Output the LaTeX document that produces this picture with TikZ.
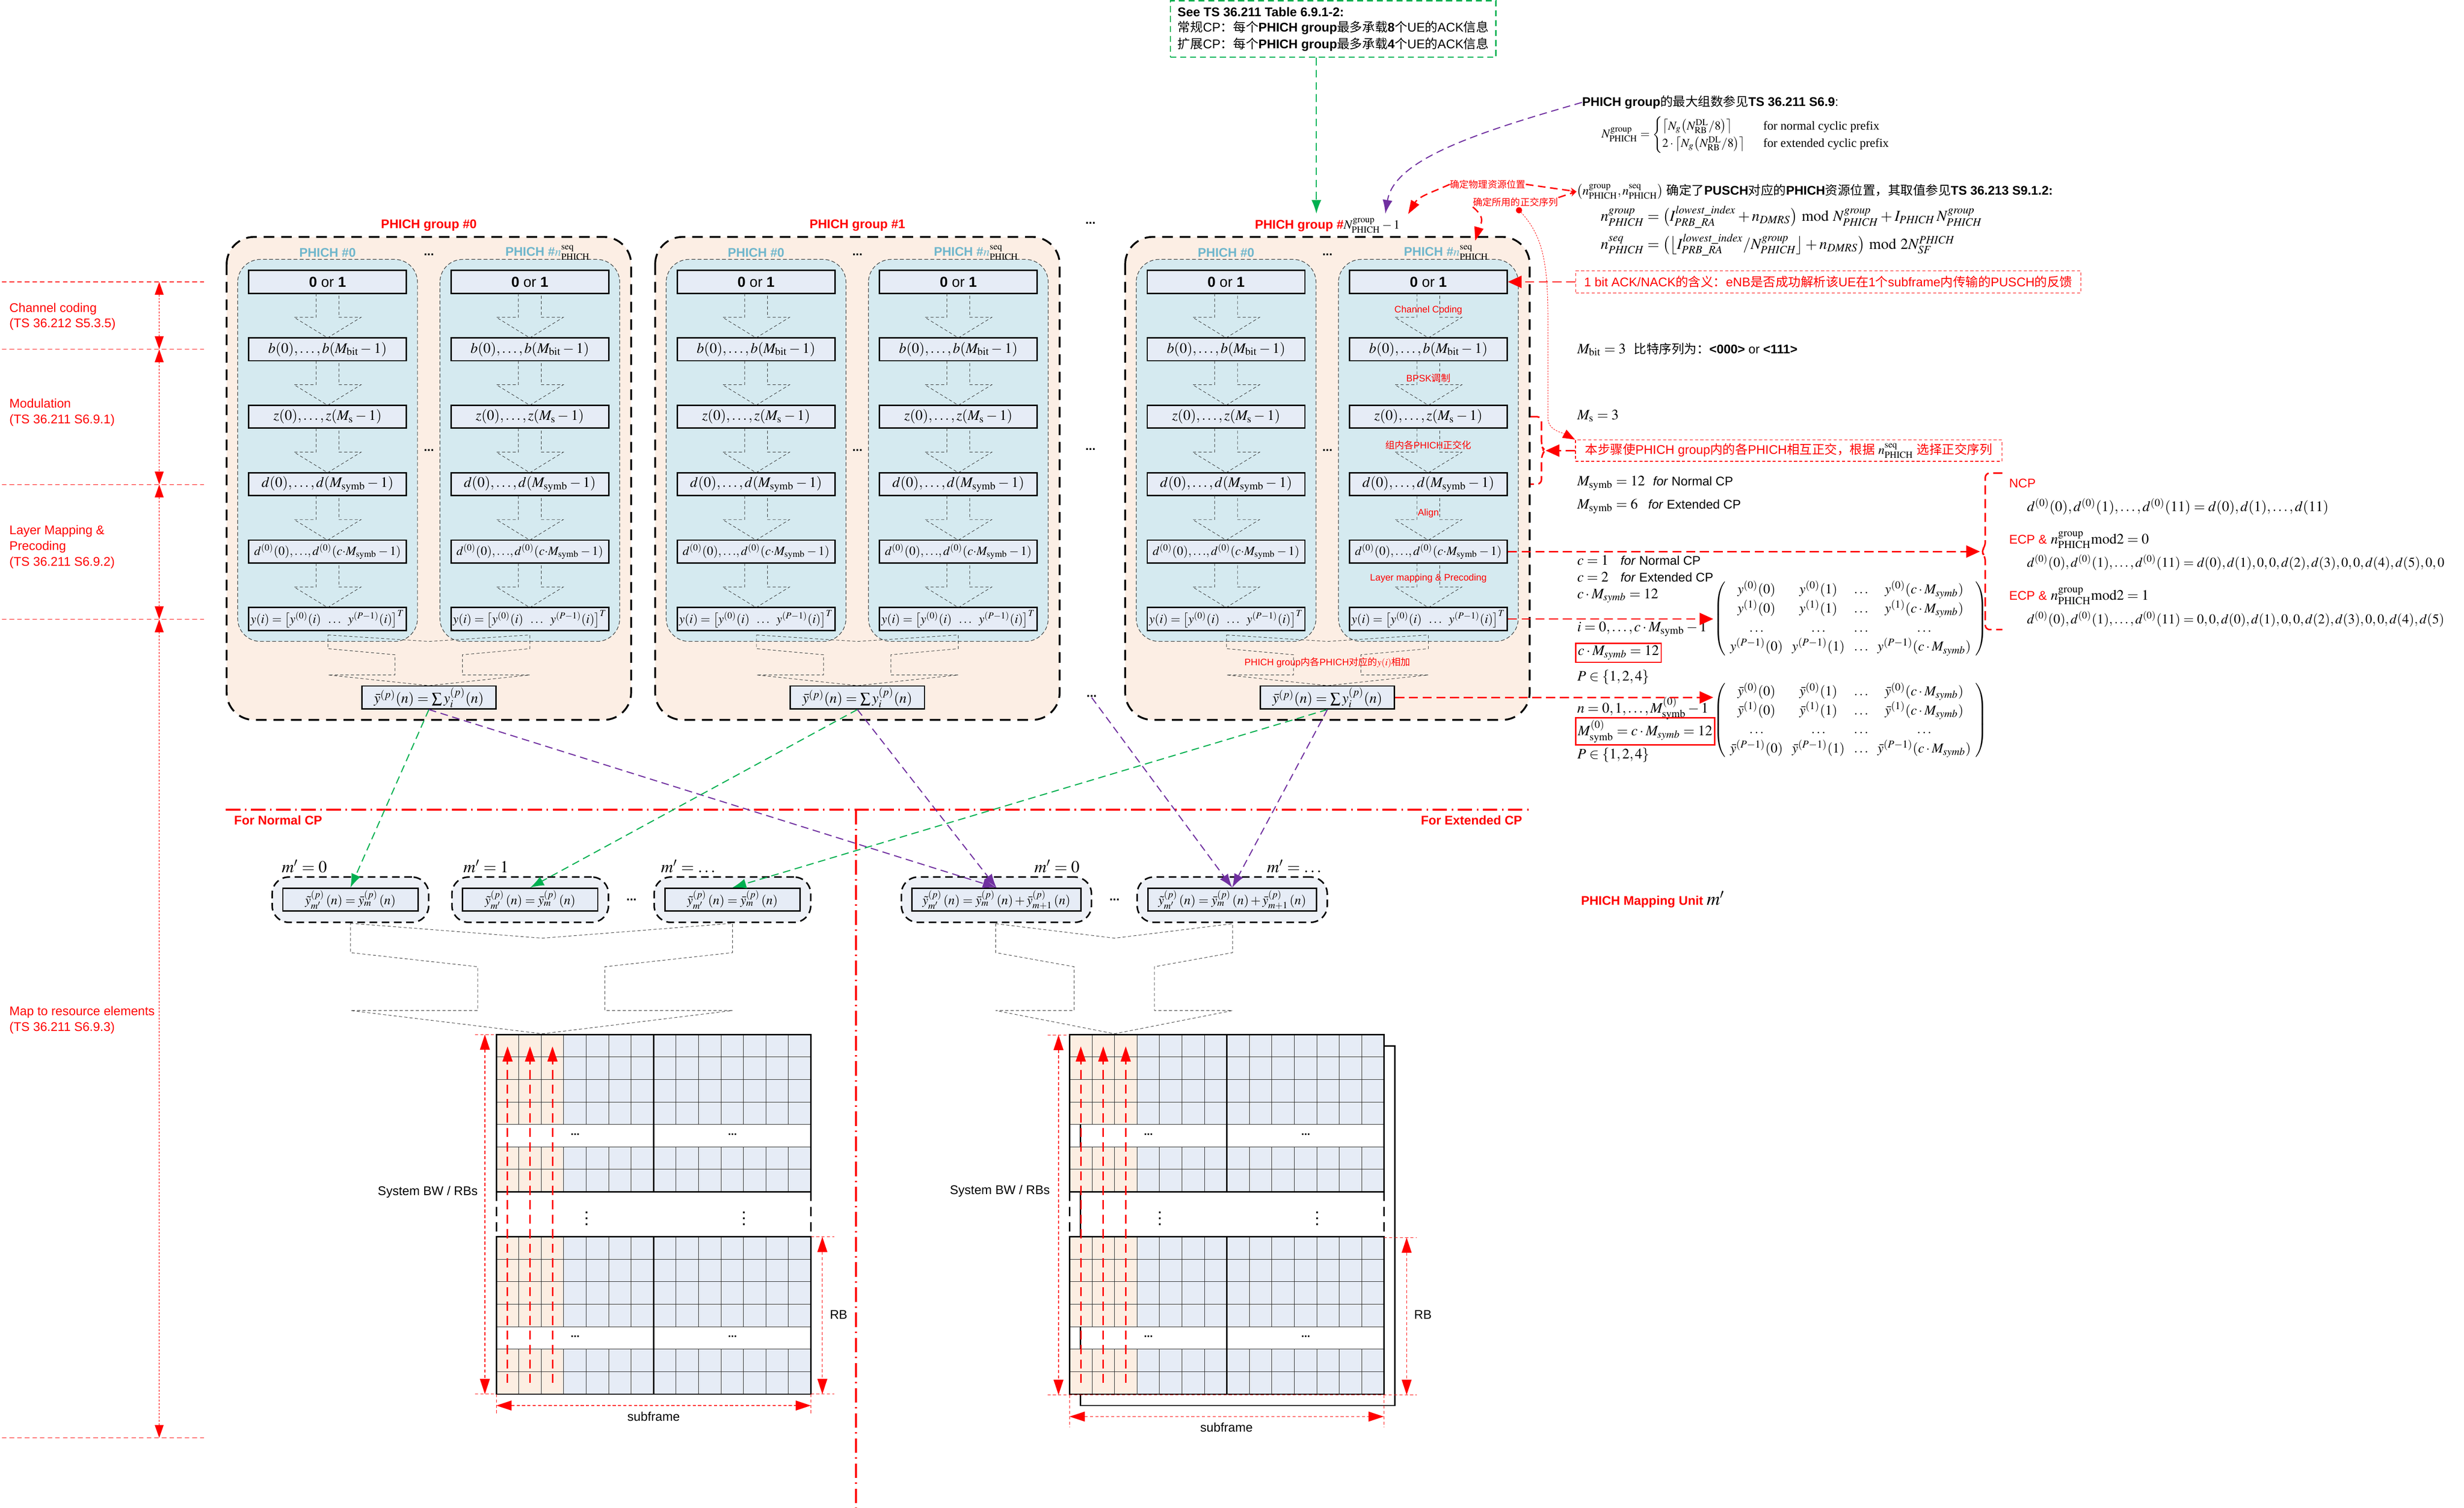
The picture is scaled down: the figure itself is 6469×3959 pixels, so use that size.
\documentclass[tikz,border=0pt]{standalone}
\usepackage{mathptmx}
\usepackage{amsmath}
\usepackage[no-math]{fontspec}
\setmainfont{Liberation Sans}
\newfontfamily\cjk{Noto Sans CJK SC}
\newfontfamily\tnr{Liberation Serif}
\usetikzlibrary{arrows.meta,calc}
\definecolor{grpfill}{RGB}{252,238,228}
\definecolor{phfill}{RGB}{213,234,240}
\definecolor{boxfill}{RGB}{230,236,246}
\definecolor{phtc}{RGB}{111,182,204}
\definecolor{unitfill}{RGB}{237,240,246}
\definecolor{cellpeach}{RGB}{252,238,226}
\definecolor{cellblue}{RGB}{230,236,246}
\definecolor{xgreen}{RGB}{0,176,80}
\definecolor{xpurple}{RGB}{112,48,160}
\definecolor{xred}{RGB}{255,0,0}
\newcommand\fsz[2]{\fontsize{#1}{#2}\selectfont}
\newcommand\zh[1]{{\cjk #1}}
\tikzset{
  grpbox/.style={draw=black, line width=1.2pt, dash pattern=on 7pt off 4.5pt, fill=grpfill, rounded corners=18pt},
  phbox/.style={draw=black!75, line width=0.4pt, dash pattern=on 2.5pt off 1.5pt, fill=phfill, rounded corners=15pt},
  pbox/.style={draw=black, line width=0.9pt, fill=boxfill, minimum width=103.5pt, minimum height=15pt, inner sep=0pt, font=\fsz{9.5}{11}},
  pboxs/.style={pbox, font=\fsz{8.2}{10}},
  sumbox/.style={pbox, minimum width=88pt},
  ubox/.style={pbox, minimum width=88.75pt, font=\fsz{8.5}{10}},
  uboxe/.style={pbox, minimum width=110.75pt, font=\fsz{8.5}{10}},
  unitbox/.style={draw=black, line width=1pt, dash pattern=on 5pt off 3pt, fill=unitfill, rounded corners=11pt, minimum height=29.75pt, inner sep=0pt},
  barrow/.style={draw=black!80, line width=0.3pt, dash pattern=on 2pt off 1.5pt},
  grptitle/.style={text=xred, font=\fsz{8.25}{10}\bfseries, inner sep=0pt},
  phtitle/.style={text=phtc, font=\fsz{8.25}{10}\bfseries, inner sep=0pt},
  dotsl/.style={font=\fsz{8}{10}\bfseries, inner sep=0pt},
  rlbl/.style={text=xred, font=\fsz{6.2}{7.5}, inner sep=0pt},
  txt/.style={font=\fsz{8.25}{10}, inner sep=0pt, anchor=west},
  mth/.style={font=\fsz{9.5}{11}, inner sep=0pt, anchor=west},
  leftlbl/.style={text=xred, font=\fsz{8.25}{10.25}, align=left, inner sep=0pt, anchor=west},
  sepline/.style={draw=xred, line width=0.35pt, dash pattern=on 3pt off 2pt},
  stagearrow/.style={draw=xred!65, line width=0.5pt, dash pattern=on 1.2pt off 1pt, {Triangle[length=8.5pt,width=5.8pt,color=xred]}-{Triangle[length=8.5pt,width=5.8pt,color=xred]}},
  redann/.style={draw=xred, line width=0.9pt, dash pattern=on 6pt off 3pt, -{Triangle[length=9pt,width=8pt]}},
  redcurve/.style={draw=xred, line width=0.9pt, dash pattern=on 5pt off 3pt},
  redbr/.style={draw=xred, line width=1pt, dash pattern=on 6pt off 3pt, rounded corners=3pt},
  redthin/.style={draw=xred, line width=0.3pt, dash pattern=on 1pt off 0.8pt},
  gconn/.style={draw=xgreen, line width=0.7pt, dash pattern=on 5pt off 3pt, -{Latex[length=9pt,width=6.5pt]}},
  pconn/.style={draw=xpurple, line width=0.7pt, dash pattern=on 5pt off 3pt, -{Latex[length=9pt,width=6.5pt]}},
  dashdot/.style={draw=xred, line width=1.2pt, dash pattern=on 9.5pt off 3pt on 1pt off 3pt},
  gridthin/.style={draw=black!85, line width=0.3pt},
  gridthick/.style={draw=black, line width=0.9pt},
  colarrow/.style={draw=xred, line width=1pt, dash pattern=on 6pt off 3.5pt, -{Triangle[length=10pt,width=6.5pt]}},
  dimarrow/.style={draw=xred, line width=0.4pt, dash pattern=on 2pt off 1.5pt, {Triangle[length=10pt,width=6.5pt]}-{Triangle[length=10pt,width=6.5pt]}},
  extline/.style={draw=xred, line width=0.3pt, dash pattern=on 2pt off 1.5pt},
  noteline/.style={draw=xred, line width=0.5pt, dash pattern=on 2pt off 1.5pt, inner sep=0pt, text=xred, font=\fsz{8.25}{10}}
}
\newcommand\blkarr[3]{\draw[barrow] ({#1-30},{#2}) -- ({#1-30},{#3-54}) -- ({#1-88},{#3-54}) -- ({#1},{#3}) -- ({#1+88},{#3-54}) -- ({#1+30},{#3-54}) -- ({#1+30},{#2});}
\newcommand\phgroup[3]{%
\begin{scope}[shift={(#2,0)}]
 \draw[grpbox] (0,622) rectangle (1062,1890);
 \draw[phbox] (29,681) rectangle (501,1684);
 \draw[phbox] (560,681) rectangle (1032,1684);
 \node[grptitle] (#1title) at (531,592) {#3};
 \node[phtitle] (#1ta) at (265,664) {PHICH \#0};
 \node[phtitle, anchor=west] (#1tb) at (731,664) {PHICH \#$n^{\textcolor{black}{\mathrm{seq}}}_{\textcolor{black}{\mathrm{PHICH}}}$};
 \node[dotsl] (#1d1) at (531,669) {...};
 \node[dotsl] (#1d2) at (531,1182) {...};
 \foreach \s/\cx in {a/265,b/796}{
   \node[pbox] (#1\s1) at (\cx,740) {\textbf{0} or \textbf{1}};
   \node[pbox] (#1\s2) at (\cx,917) {$b(0),\ldots,b(M_{\mathrm{bit}}-1)$};
   \node[pbox] (#1\s3) at (\cx,1094) {$z(0),\ldots,z(M_{\mathrm{s}}-1)$};
   \node[pbox] (#1\s4) at (\cx,1271) {$d(0),\ldots,d(M_{\mathrm{symb}}-1)$};
   \node[pboxs] (#1\s5) at (\cx,1448) {$d^{(0)}(0),{\ldots},d^{(0)}(c{\cdot}M_{\mathrm{symb}}-1)$};
   \node[pboxs] (#1\s6) at (\cx,1625) {$y(i)=\bigl[y^{(0)}(i)\;\;\ldots\;\;y^{(P-1)}(i)\bigr]^{T}$};
   \foreach \yy in {740,917,1094,1271,1448}{\blkarr{\cx}{\yy+30}{\yy+147}}
 }
 \draw[barrow] (266,1667) -- (531,1684) -- (796,1667) -- (796,1703) -- (619,1719) -- (619,1772) -- (796,1772) -- (531,1800) -- (266,1772) -- (442,1772) -- (442,1719) -- (266,1703) -- cycle;
 \node[sumbox] (#1sum) at (531,1831) {$\bar{y}^{(p)}(n)=\sum y_i^{(p)}(n)$};
\end{scope}}
\newcommand\rgrid[2]{%
 \foreach \yb in {2716,3247}{
  \foreach \k in {0,1,2,3,5,6}{
   \fill[cellpeach] (#1,{\yb+59*\k}) rectangle ({#1+177},{\yb+59*\k+59});
   \fill[cellblue] ({#1+177},{\yb+59*\k}) rectangle ({#1+826},{\yb+59*\k+59});
   \foreach \c in {1,...,13}{\draw[gridthin] ({#1+59*\c},{\yb+59*\k}) -- ++(0,59);}
  }
  \foreach \k in {1,...,6}{\draw[gridthin] (#1,{\yb+59*\k}) -- ++(826,0);}
  \draw[gridthick] ({#1+413},\yb) -- ++(0,413);
  \draw[gridthick] (#1,\yb) rectangle ({#1+826},{\yb+413});
 }
 \draw[gridthick, dash pattern=on 6pt off 4pt] (#1,3129) -- (#1,3247);
 \draw[gridthick, dash pattern=on 6pt off 4pt] ({#1+826},3129) -- ({#1+826},3247);
 \node[dotsl, font=\fsz{7}{8}\bfseries] (#2da) at ({#1+207},2978) {...};
 \node[dotsl, font=\fsz{7}{8}\bfseries] (#2db) at ({#1+620},2978) {...};
 \node[dotsl, font=\fsz{7}{8}\bfseries] (#2dc) at ({#1+207},3509) {...};
 \node[dotsl, font=\fsz{7}{8}\bfseries] (#2dd) at ({#1+620},3509) {...};
 \node[dotsl, font=\fsz{8}{9}\bfseries] (#2de) at ({#1+237},3187) {$\vdots$};
 \node[dotsl, font=\fsz{8}{9}\bfseries] (#2df) at ({#1+650},3187) {$\vdots$};
 \foreach \c in {0,1,2}{\draw[colarrow] ({#1+29.5+59*\c},3631) -- ({#1+29.5+59*\c},2747);}
}
\begin{document}
\begin{tikzpicture}[x=0.25pt, y=-0.25pt]
\useasboundingbox[fill=white] (0,0) rectangle (6469,3959);
% ---------- left stage labels
\foreach \yy in {740,917,1272,1626,3775}{\draw[sepline] (5,\yy) -- (536,\yy);}
\coordinate (s0) at (418,740); \coordinate (s1) at (418,917); \coordinate (s2) at (418,1272);
\coordinate (s3) at (418,1626); \coordinate (s4) at (418,3775);
\draw[stagearrow] (s0) -- (s1); \draw[stagearrow] (s1) -- (s2);
\draw[stagearrow] (s2) -- (s3); \draw[stagearrow] (s3) -- (s4);
\node[leftlbl] (lab1) at (24,831) {Channel coding\\(TS 36.212 S5.3.5)};
\node[leftlbl] (lab2) at (24,1083) {Modulation\\(TS 36.211 S6.9.1)};
\node[leftlbl] (lab3) at (24,1436) {Layer Mapping \&\\Precoding\\(TS 36.211 S6.9.2)};
\node[leftlbl] (lab4) at (24,2678) {Map to resource elements\\(TS 36.211 S6.9.3)};
% ---------- groups
\phgroup{g0}{595}{PHICH group \#0}
\phgroup{g1}{1720}{PHICH group \#1}
\phgroup{gN}{2954}{PHICH group \#\textcolor{black}{$N^{\mathrm{group}}_{\mathrm{PHICH}}-1$}}
\node[dotsl] (dtop) at (2863,586) {...};
\node[dotsl] (dmid) at (2863,1180) {...};
\node[dotsl] (dbot) at (2866,1828) {...};
\node[rlbl] (ccl) at (3750,815) {Channel Coding};
\node[rlbl] (bpl) at (3750,993) {BPSK\zh{调制}};
\node[rlbl] (orl) at (3750,1169) {\zh{组内各}PHICH\zh{正交化}};
\node[rlbl] (all) at (3750,1347) {Align};
\node[rlbl] (lml) at (3750,1518) {Layer mapping \& Precoding};
\node[rlbl] (sml) at (3485,1740) {PHICH group\zh{内各}PHICH\zh{对应的}$y(i)$\zh{相加}};
% ---------- top note
\node[draw=xgreen, line width=0.8pt, dash pattern=on 4pt off 2.5pt, minimum width=213.75pt, minimum height=37pt, inner sep=0pt] (note) at (3500,76) {};
\node[txt, font=\fsz{8.3}{10}] (note1) at (3091,32) {\textbf{See TS 36.211 Table 6.9.1-2:}};
\node[txt, font=\fsz{8.3}{10}] (note2) at (3091,73) {\zh{常规}CP\zh{：每个}\textbf{PHICH group}\zh{最多承载}\textbf{8}\zh{个}UE\zh{的}ACK\zh{信息}};
\node[txt, font=\fsz{8.3}{10}] (note3) at (3091,117) {\zh{扩展}CP\zh{：每个}\textbf{PHICH group}\zh{最多承载}\textbf{4}\zh{个}UE\zh{的}ACK\zh{信息}};
\coordinate (gtip) at (3456,561);
\draw[gconn] (note.south -| gtip) -- (gtip);
% ---------- top right formulas
\node[txt] (maxtxt) at (4153,269) {\textbf{PHICH group}\zh{的最大组数参见}\textbf{TS 36.211 S6.9}:};
\coordinate (ptip) at (3637,561);
\draw[pconn] (maxtxt.west) .. controls (3870,350) and (3660,420) .. (ptip);
\node[mth, font=\fsz{8}{9.5}] (nform) at (4204,354) {$N^{\mathrm{group}}_{\mathrm{PHICH}}=\begin{cases}\bigl\lceil N_{g}\bigl(N^{\mathrm{DL}}_{\mathrm{RB}}/8\bigr)\bigr\rceil & \text{\tnr\ \ for normal cyclic prefix}\\ 2\cdot\bigl\lceil N_{g}\bigl(N^{\mathrm{DL}}_{\mathrm{RB}}/8\bigr)\bigr\rceil & \text{\tnr\ \ for extended cyclic prefix}\end{cases}$};
\node[txt] (nparen) at (4139,503) {$\left(n^{\mathrm{group}}_{\mathrm{PHICH}},n^{\mathrm{seq}}_{\mathrm{PHICH}}\right)$\ \zh{确定了}\textbf{PUSCH}\zh{对应的}\textbf{PHICH}\zh{资源位置，其取值参见}\textbf{TS 36.213 S9.1.2:}};
\node[mth, font=\fsz{10}{12}] (ngf) at (4202,570) {$n^{\mathit{group}}_{\mathit{PHICH}}=\bigl(I^{\mathit{lowest\_index}}_{\mathit{PRB\_RA}}+n_{\mathit{DMRS}}\bigr)\bmod N^{\mathit{group}}_{\mathit{PHICH}}+I_{\mathit{PHICH}}\,N^{\mathit{group}}_{\mathit{PHICH}}$};
\node[mth, font=\fsz{10}{12}] (nsf) at (4202,643) {$n^{\mathit{seq}}_{\mathit{PHICH}}=\bigl(\bigl\lfloor I^{\mathit{lowest\_index}}_{\mathit{PRB\_RA}}/N^{\mathit{group}}_{\mathit{PHICH}}\bigr\rfloor+n_{\mathit{DMRS}}\bigr)\bmod 2N^{\mathit{PHICH}}_{\mathit{SF}}$};
\node[rlbl] (lbl1) at (3906,484) {\zh{确定物理资源位置}};
\node[rlbl] (lbl2) at (3979,531) {\zh{确定所用的正交序列}};
\coordinate (tipA) at (3697,562);
\coordinate (tipB) at (3873,632);
\draw[redcurve, -{Stealth[length=4pt,width=4pt]}] (lbl1.east) -- (nparen.west);
\draw[redcurve, -{Stealth[length=4pt,width=4pt]}] (lbl2.north east) -- (nparen.west);
\draw[redcurve, -{Triangle[length=9pt,width=6pt]}] (lbl1.west) .. controls (3760,505) and (3725,515) .. (tipA);
\draw[redcurve, -{Triangle[length=9pt,width=6pt]}] (lbl2.south west) .. controls (3905,575) and (3885,590) .. (tipB);
\coordinate (dotc) at (3988,552);
\fill[xred] (dotc) circle (2pt);
% ---------- right column
\node[noteline, minimum width=331.5pt, minimum height=14.5pt] (ack) at (4800,740) {1 bit ACK/NACK\zh{的含义：}eNB\zh{是否成功解析该}UE\zh{在}1\zh{个}subframe\zh{内传输的}PUSCH\zh{的反馈}};
\draw[redann] (ack.west) -- (gNb1.east);
\node[mth] (mbit) at (4140,917) {$M_{\mathrm{bit}}=3$\ \ {\fsz{8.25}{10}\zh{比特序列为：}\textbf{<000>} or \textbf{<111>}}};
\node[mth] (ms) at (4140,1092) {$M_{\mathrm{s}}=3$};
\node[noteline, minimum width=280pt, minimum height=14pt] (orth) at (4696,1183) {\zh{本步骤使}PHICH group\zh{内的各}PHICH\zh{相互正交，根据}\ \textcolor{black}{$n^{\mathrm{seq}}_{\mathrm{PHICH}}$}\ \zh{选择正交序列}};
\draw[redthin, -{Triangle[length=8pt,width=6pt,color=xred]}] (dotc) .. controls (4055,620) and (4064,700) .. (4064,850) -- (4064,1100) .. controls (4066,1130) and (4100,1135) .. (orth.north west);
\draw[redbr] (4018,1094) -- (4047,1094) -- (4047,1171) -- (4056,1183) -- (4047,1195) -- (4047,1271) -- (4018,1271);
\coordinate (brk1) at (4058,1183);
\draw[redann] (orth.west) -- (brk1);
\node[mth] (msy1) at (4140,1269) {$M_{\mathrm{symb}}=12$\ \ {\fsz{8.25}{10}\textit{for} Normal CP}};
\node[mth] (msy2) at (4140,1329) {$M_{\mathrm{symb}}=6$\ \ \,{\fsz{8.25}{10}\textit{for} Extended CP}};
\node[mth] (c1) at (4140,1471) {$c=1$\ \ \ {\fsz{8.25}{10}\textit{for} Normal CP}};
\node[mth] (c2) at (4140,1515) {$c=2$\ \ \ {\fsz{8.25}{10}\textit{for} Extended CP}};
\node[mth] (cm) at (4140,1564) {$c\cdot M_{symb}=12$};
\node[mth] (ir) at (4140,1652) {$i=0,\ldots,c\cdot M_{\mathrm{symb}}-1$};
\node[mth, draw=xred, line width=0.8pt, inner sep=1.5pt] (rb1) at (4135,1714) {$c\cdot M_{symb}=12$};
\node[mth] (ps1) at (4140,1778) {$P\in\{1,2,4\}$};
\node[mth] (nr) at (4140,1860) {$n=0,1,\ldots,M^{(0)}_{\mathrm{symb}}-1$};
\node[mth, draw=xred, line width=0.8pt, inner sep=1.5pt] (rb2) at (4135,1920) {$M^{(0)}_{\mathrm{symb}}=c\cdot M_{symb}=12$};
\node[mth] (ps2) at (4140,1983) {$P\in\{1,2,4\}$};
\node[mth, font=\fsz{9}{10}] (mat1) at (4498,1624) {$\renewcommand\arraystretch{1.25}\setlength\arraycolsep{3pt}\left(\begin{array}{cccc} y^{(0)}(0) & y^{(0)}(1) & \ldots & y^{(0)}(c\cdot M_{symb})\\ y^{(1)}(0) & y^{(1)}(1) & \ldots & y^{(1)}(c\cdot M_{symb})\\ \ldots & \ldots & \ldots & \ldots\\ y^{(P-1)}(0) & y^{(P-1)}(1) & \ldots & y^{(P-1)}(c\cdot M_{symb})\end{array}\right)$};
\node[mth, font=\fsz{9}{10}] (mat2) at (4498,1891) {$\renewcommand\arraystretch{1.25}\setlength\arraycolsep{3pt}\left(\begin{array}{cccc} \bar{y}^{(0)}(0) & \bar{y}^{(0)}(1) & \ldots & \bar{y}^{(0)}(c\cdot M_{symb})\\ \bar{y}^{(1)}(0) & \bar{y}^{(1)}(1) & \ldots & \bar{y}^{(1)}(c\cdot M_{symb})\\ \ldots & \ldots & \ldots & \ldots\\ \bar{y}^{(P-1)}(0) & \bar{y}^{(P-1)}(1) & \ldots & \bar{y}^{(P-1)}(c\cdot M_{symb})\end{array}\right)$};
\draw[redann] (gNb6.east) -- (gNb6.east -| mat1.west);
\draw[redann] (gNsum.east) -- (gNsum.east -| mat2.west);
\coordinate (brk2) at (5198,1448);
\draw[redann] (gNb5.east) -- (brk2);
\draw[redbr] (5257,1242) -- (5212,1242) -- (5212,1436) -- (5200,1448) -- (5212,1460) -- (5212,1653) -- (5257,1653);
\node[txt, text=xred] (ncp) at (5274,1269) {NCP};
\node[mth, font=\fsz{9.5}{11}] (ncpf) at (5321,1330) {$d^{(0)}(0),d^{(0)}(1),\ldots,d^{(0)}(11)=d(0),d(1),\ldots,d(11)$};
\node[mth, font=\fsz{9.5}{11}] (ecp0) at (5274,1418) {{\fsz{8.25}{10}\textcolor{xred}{ECP \&}} $n^{\mathrm{group}}_{\mathrm{PHICH}}\mathrm{mod}2=0$};
\node[mth, font=\fsz{8.9}{11}] (ecpf0) at (5321,1477) {$d^{(0)}(0),d^{(0)}(1),\ldots,d^{(0)}(11)=d(0),d(1),0,0,d(2),d(3),0,0,d(4),d(5),0,0$};
\node[mth, font=\fsz{9.5}{11}] (ecp1) at (5274,1565) {{\fsz{8.25}{10}\textcolor{xred}{ECP \&}} $n^{\mathrm{group}}_{\mathrm{PHICH}}\mathrm{mod}2=1$};
\node[mth, font=\fsz{8.9}{11}] (ecpf1) at (5321,1625) {$d^{(0)}(0),d^{(0)}(1),\ldots,d^{(0)}(11)=0,0,d(0),d(1),0,0,d(2),d(3),0,0,d(4),d(5)$};
% ---------- CP split
\draw[dashdot] (593,2126) -- (4017,2126);
\draw[dashdot] (2247,2126) -- (2247,3959);
\node[txt, text=xred, font=\fsz{8.25}{10}\bfseries] (fnc) at (614,2154) {For Normal CP};
\node[txt, text=xred, font=\fsz{8.25}{10}\bfseries, anchor=east] (fec) at (3997,2154) {For Extended CP};
\node[txt, text=xred, font=\fsz{8.25}{10}\bfseries] (pmu) at (4150,2361) {PHICH Mapping Unit {\fsz{12}{14}\textcolor{black}{$m'$}}};
% ---------- mapping units
\node[unitbox, minimum width=102.75pt] (un1) at (920,2362) {};
\node[ubox] (un1b) at (920,2362) {$\tilde{y}^{(p)}_{m'}\,(n)=\bar{y}^{(p)}_{m}\,(n)$};
\node[unitbox, minimum width=102.75pt] (un2) at (1392,2362) {};
\node[ubox] (un2b) at (1392,2362) {$\tilde{y}^{(p)}_{m'}\,(n)=\bar{y}^{(p)}_{m}\,(n)$};
\node[unitbox, minimum width=102.75pt] (un3) at (1923,2362) {};
\node[ubox] (un3b) at (1923,2362) {$\tilde{y}^{(p)}_{m'}\,(n)=\bar{y}^{(p)}_{m}\,(n)$};
\node[unitbox, minimum width=124.75pt] (ue1) at (2616,2362) {};
\node[uboxe] (ue1b) at (2616,2362) {$\tilde{y}^{(p)}_{m'}\,(n)=\bar{y}^{(p)}_{m}\,(n)+\bar{y}^{(p)}_{m+1}\,(n)$};
\node[unitbox, minimum width=124.75pt] (ue2) at (3235,2362) {};
\node[uboxe] (ue2b) at (3235,2362) {$\tilde{y}^{(p)}_{m'}\,(n)=\bar{y}^{(p)}_{m}\,(n)+\bar{y}^{(p)}_{m+1}\,(n)$};
\node[dotsl] (ud1) at (1658,2362) {...};
\node[dotsl] (ud2) at (2926,2362) {...};
\node[font=\fsz{11}{13}, inner sep=0pt] (m0) at (799,2274) {$m'=0$};
\node[font=\fsz{11}{13}, inner sep=0pt] (m1) at (1276,2274) {$m'=1$};
\node[font=\fsz{11}{13}, inner sep=0pt] (m2) at (1807,2274) {$m'=\ldots$};
\node[font=\fsz{11}{13}, inner sep=0pt] (m3) at (2775,2274) {$m'=0$};
\node[font=\fsz{11}{13}, inner sep=0pt] (m4) at (3398,2274) {$m'=\ldots$};
\draw[barrow] (920,2424) -- (1424,2463) -- (1923,2424) -- (1923,2501) -- (1588,2538) -- (1588,2653) -- (1923,2653) -- (1424,2714) -- (920,2653) -- (1254,2653) -- (1254,2538) -- (920,2501) -- cycle;
\draw[barrow] (2614,2425) -- (2926,2463) -- (3236,2425) -- (3236,2501) -- (3031,2538) -- (3031,2653) -- (3236,2653) -- (2926,2714) -- (2614,2653) -- (2820,2653) -- (2820,2538) -- (2614,2501) -- cycle;
% ---------- connectors groups -> units
\draw[gconn] (g0sum.south) -- (un1b.north);
\draw[pconn] (g0sum.south) -- (ue1b.north);
\draw[gconn] (g1sum.south) -- (un2b.north);
\draw[pconn] (g1sum.south) -- (ue1b.north);
\draw[gconn] (gNsum.south) -- (un3b.north);
\draw[pconn] (gNsum.south) -- (ue2b.north);
\draw[pconn] (dbot.south) -- (ue2b.north);
% ---------- grids
\rgrid{1303}{ga}
\draw[extline] (1247,2716) -- (1303,2716);
\draw[extline] (1247,3660) -- (1303,3660);
\coordinate (sa1) at (1273,2716); \coordinate (sa2) at (1273,3660);
\draw[dimarrow] (sa1) -- (sa2);
\node[txt, anchor=east] (sbw1) at (1255,3129) {System BW / RBs};
\draw[extline] (2129,3247) -- (2190,3247);
\draw[extline] (2129,3660) -- (2190,3660);
\coordinate (ra1) at (2159,3247); \coordinate (ra2) at (2159,3660);
\draw[dimarrow] (ra1) -- (ra2);
\node[txt] (rbl1) at (2178,3452) {RB};
\draw[extline] (1303,3660) -- (1303,3715);
\draw[extline] (2129,3660) -- (2129,3715);
\coordinate (fa1) at (1303,3690); \coordinate (fa2) at (2129,3690);
\draw[dimarrow] (fa1) -- (fa2);
\node[txt, anchor=center] (sf1) at (1716,3719) {subframe};
\draw[gridthick] (2837,2746) rectangle (3662,3690);
\rgrid{2808}{gb}
\draw[extline] (2750,2717) -- (2808,2717);
\draw[extline] (2750,3662) -- (3720,3662);
\coordinate (sb1) at (2779,2717); \coordinate (sb2) at (2779,3662);
\draw[dimarrow] (sb1) -- (sb2);
\node[txt, anchor=east] (sbw2) at (2757,3127) {System BW / RBs};
\draw[extline] (3633,3249) -- (3720,3249);
\coordinate (rb1c) at (3693,3249); \coordinate (rb2c) at (3693,3662);
\draw[dimarrow] (rb1c) -- (rb2c);
\node[txt] (rbl2) at (3712,3452) {RB};
\draw[extline] (2808,3662) -- (2808,3747);
\draw[extline] (3633,3662) -- (3633,3747);
\coordinate (fb1) at (2808,3719); \coordinate (fb2) at (3633,3719);
\draw[dimarrow] (fb1) -- (fb2);
\node[txt, anchor=center] (sf2) at (3220,3747) {subframe};
\end{tikzpicture}
\end{document}
